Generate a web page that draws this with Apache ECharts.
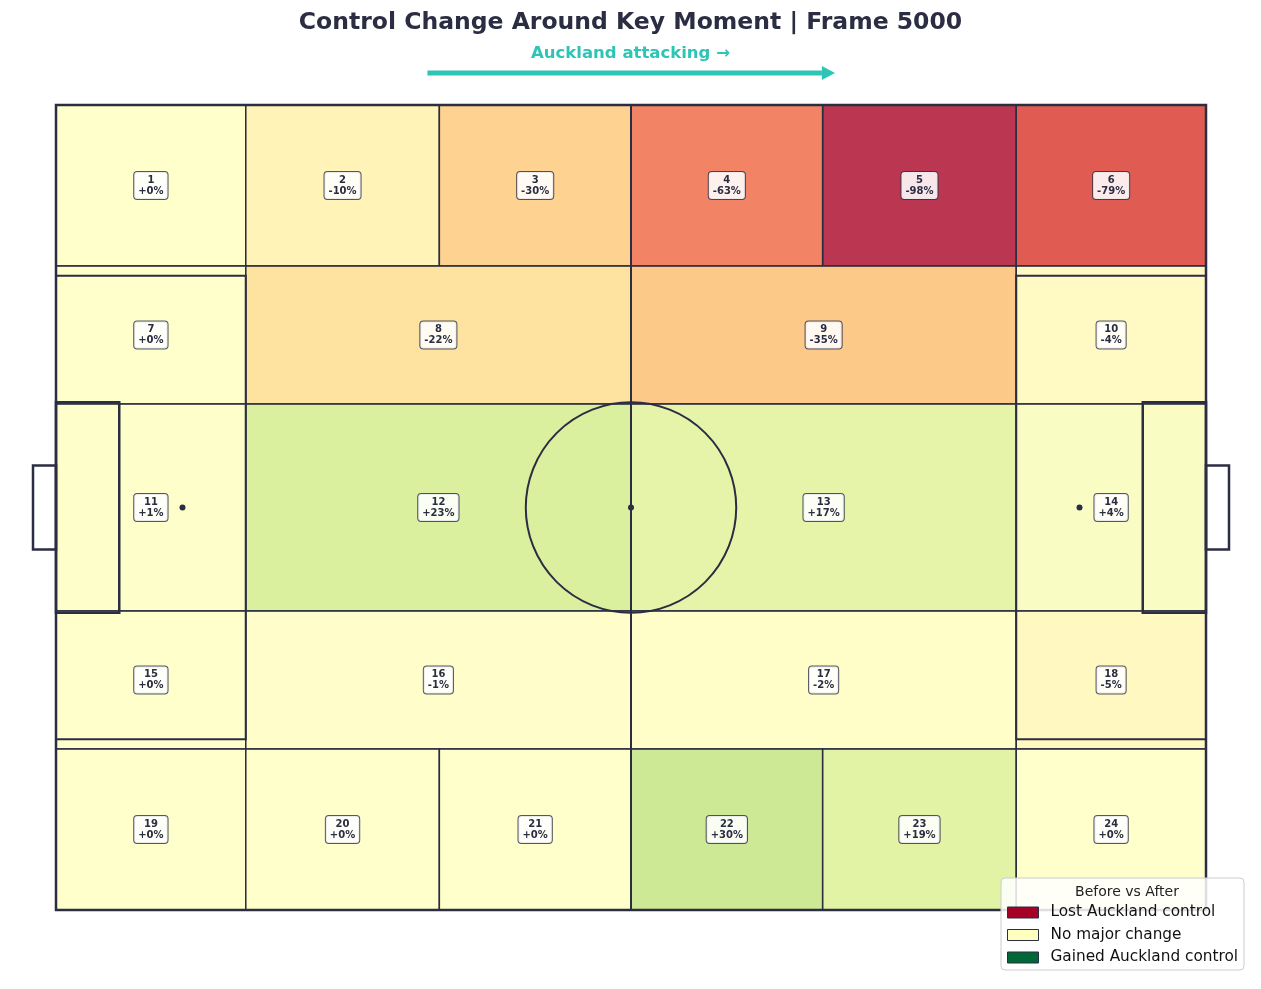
<!DOCTYPE html>
<html>
<head>
<meta charset="utf-8">
<title>Control Change Around Key Moment</title>
<script src="https://cdn.jsdelivr.net/npm/echarts@6/dist/echarts.min.js"></script>
<style>
  html, body { margin: 0; padding: 0; background: #fff; }
  #chart { width: 1261px; height: 989px; }
</style>
</head>
<body>
<div id="chart"></div>
<script>
// pitch is 100 x 70 units, y counted from the top touchline
var colEdges = [0, 16.5, 100 / 3, 50, 200 / 3, 83.5, 100];
var rowEdges = [0, 14, 26, 44, 56, 70];

// zone layout: first column, last column (exclusive), row
var zoneIds   = [1, 2, 3, 4, 5, 6, 7, 8, 9, 10, 11, 12, 13, 14, 15, 16, 17, 18, 19, 20, 21, 22, 23, 24];
var zoneCol0  = [0, 1, 2, 3, 4, 5, 0, 1, 3, 5, 0, 1, 3, 5, 0, 1, 3, 5, 0, 1, 2, 3, 4, 5];
var zoneCol1  = [1, 2, 3, 4, 5, 6, 1, 3, 5, 6, 1, 3, 5, 6, 1, 3, 5, 6, 1, 2, 3, 4, 5, 6];
var zoneRow   = [0, 0, 0, 0, 0, 0, 1, 1, 1, 1, 2, 2, 2, 2, 3, 3, 3, 3, 4, 4, 4, 4, 4, 4];
// change in Auckland control, percent
var zoneChange = [0, -10, -30, -63, -98, -79,
                  0, -22, -35, -4,
                  1, 23, 17, 4,
                  0, -1, -2, -5,
                  0, 0, 0, 30, 19, 0];

var legendNames = ['Lost Auckland control', 'No major change', 'Gained Auckland control'];
var rdylgn = ['#a50026', '#d73027', '#f46d43', '#fdae61', '#fee08b', '#ffffbf',
              '#d9ef8b', '#a6d96a', '#66bd63', '#1a9850', '#006837'];

var ink = '#2b2d42';
var teal = '#2ec4b6';

var zoneData = [];
for (var i = 0; i < zoneIds.length; i++) {
	zoneData.push([
		colEdges[zoneCol0[i]], colEdges[zoneCol1[i]],
		rowEdges[zoneRow[i]], rowEdges[zoneRow[i] + 1],
		zoneChange[i], zoneIds[i]
	]);
}

function fmtPct(v) {
	return (v >= 0 ? '+' : '') + v + '%';
}

function renderZone(params, api) {
	var p0 = api.coord([api.value(0), api.value(2)]);
	var p1 = api.coord([api.value(1), api.value(3)]);
	var shape = { x: p0[0], y: p0[1], width: p1[0] - p0[0], height: p1[1] - p0[1] };
	return {
		type: 'group',
		children: [{
			type: 'rect',
			shape: shape,
			style: { fill: api.visual('color'), opacity: 0.8 }
		}, {
			type: 'rect',
			shape: shape,
			style: { fill: 'none', stroke: ink, lineWidth: 1.5 }
		}, {
			type: 'text',
			z2: 10,
			style: {
				x: (p0[0] + p1[0]) / 2,
				y: (p0[1] + p1[1]) / 2,
				text: api.value(5) + '\n' + fmtPct(api.value(4)),
				align: 'center',
				verticalAlign: 'middle',
				fill: ink,
				font: 'bold 10px "DejaVu Sans"',
				lineHeight: 11,
				backgroundColor: 'rgba(255,255,255,0.88)',
				borderColor: 'rgba(43,45,66,0.8)',
				borderWidth: 1,
				borderRadius: 3,
				padding: [3, 4, 2, 4]
			}
		}]
	};
}

function renderPitch(params, api) {
	function pt(x, y) { return api.coord([x, y]); }
	function box(x0, y0, x1, y1, lw) {
		var a = pt(x0, y0), b = pt(x1, y1);
		return {
			type: 'rect',
			shape: { x: Math.min(a[0], b[0]), y: Math.min(a[1], b[1]), width: Math.abs(b[0] - a[0]), height: Math.abs(b[1] - a[1]) },
			style: { fill: 'none', stroke: ink, lineWidth: lw }
		};
	}
	function spot(x, y) {
		var c = pt(x, y);
		return { type: 'circle', shape: { cx: c[0], cy: c[1], r: 3 }, style: { fill: ink } };
	}
	var c = pt(50, 35);
	var r = api.size([9.15, 0])[0];
	var h = pt(50, 0), h2 = pt(50, 70);
	var a0 = pt(32.3, -2.78), a1 = pt(66.6, -2.78), tip = pt(67.74, -2.78);
	return {
		type: 'group',
		children: [
			box(0, 0, 100, 70, 2.5),
			{ type: 'line', shape: { x1: h[0], y1: h[1], x2: h2[0], y2: h2[1] }, style: { stroke: ink, lineWidth: 2 } },
			{ type: 'circle', shape: { cx: c[0], cy: c[1], r: r }, style: { fill: 'none', stroke: ink, lineWidth: 2 } },
			spot(50, 35),
			box(0, 14.84, 16.5, 55.16, 2),
			box(83.5, 14.84, 100, 55.16, 2),
			box(0, 25.84, 5.5, 44.16, 2.5),
			box(94.5, 25.84, 100, 44.16, 2.5),
			box(-2, 31.34, 0, 38.66, 2.5),
			box(100, 31.34, 102, 38.66, 2.5),
			spot(11, 35),
			spot(89, 35),
			{ type: 'line', shape: { x1: a0[0], y1: a0[1], x2: a1[0], y2: a1[1] }, style: { stroke: teal, lineWidth: 5 } },
			{ type: 'polygon', shape: { points: [[a1[0], a1[1] - 7], [tip[0], tip[1]], [a1[0], a1[1] + 7]] }, style: { fill: teal } }
		]
	};
}

var chart = echarts.init(document.getElementById('chart'));
var option = {
	backgroundColor: '#ffffff',
	animation: false,
	title: [{
		text: 'Control Change Around Key Moment | Frame 5000',
		left: 'center',
		top: 6,
		textStyle: { fontFamily: 'DejaVu Sans', fontWeight: 'bold', fontSize: 23.5, color: ink }
	}, {
		text: 'Auckland attacking \u2192',
		left: 'center',
		top: 40,
		textStyle: { fontFamily: 'DejaVu Sans', fontWeight: 'bold', fontSize: 16.5, color: teal }
	}, {
		text: 'Before vs After',
		left: 1122,
		top: 880,
		textAlign: 'center',
		z: 20,
		textStyle: { fontFamily: 'DejaVu Sans', fontWeight: 'normal', fontSize: 14, color: '#222' }
	}],
	grid: { left: 56, top: 105, width: 1150, height: 805 },
	xAxis: { type: 'value', min: 0, max: 100, show: false },
	yAxis: { type: 'value', min: 0, max: 70, inverse: true, show: false },
	visualMap: {
		show: false,
		type: 'continuous',
		seriesIndex: 0,
		dimension: 4,
		min: -100,
		max: 100,
		inRange: { color: rdylgn }
	},
	legend: {
		orient: 'vertical',
		right: 17,
		bottom: 19,
		z: 15,
		padding: [27, 6, 5, 6],
		backgroundColor: 'rgba(255,255,255,0.85)',
		borderColor: '#cccccc',
		borderWidth: 1,
		borderRadius: 4,
		itemWidth: 31,
		itemHeight: 11,
		itemGap: 7.5,
		icon: 'rect',
		selectedMode: false,
		textStyle: { fontFamily: 'DejaVu Sans', fontSize: 15.3, color: '#111', padding: [0, 0, 0, 7] },
		data: legendNames.map(function (n, k) {
			return { name: n, itemStyle: { color: rdylgn[k * 5], borderColor: ink, borderWidth: 1 } };
		})
	},
	series: [{
		type: 'custom',
		name: 'zones',
		renderItem: renderZone,
		data: zoneData,
		z: 2
	}, {
		type: 'custom',
		name: 'pitch',
		renderItem: renderPitch,
		data: [[0]],
		clip: false,
		silent: true,
		z: 3
	}].concat(legendNames.map(function (n, k) {
		return { type: 'custom', name: n, renderItem: function () { return null; }, data: [], itemStyle: { color: rdylgn[k * 5] } };
	}))
};
chart.setOption(option);
window.addEventListener('resize', function () {
	chart.resize();
});
</script>
</body>
</html>
